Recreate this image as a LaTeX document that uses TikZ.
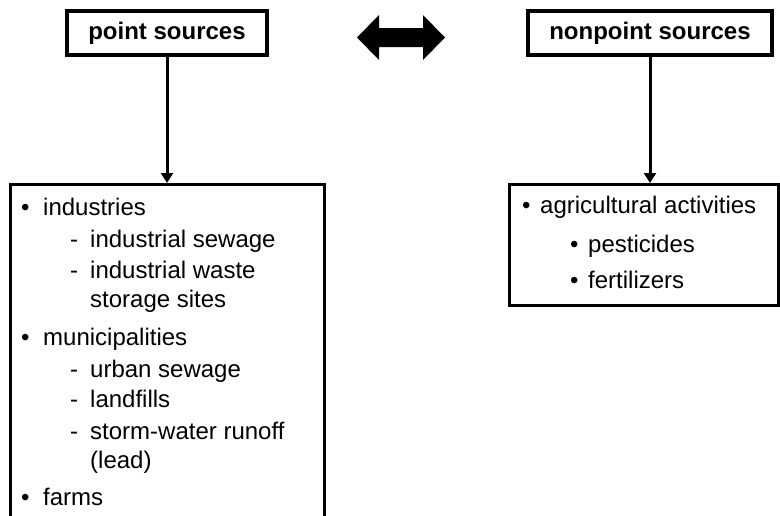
\documentclass[tikz,border=0pt]{standalone}
\usepackage{fontspec}
\setmainfont{Liberation Sans}
\usetikzlibrary{arrows.meta}
\tikzset{
  titlebox/.style={draw, line width=3.3pt, minimum height=44pt, inner sep=0pt,
    font=\fontsize{24}{28}\selectfont\bfseries},
  listbox/.style={draw, line width=3.3pt, anchor=north west, inner sep=0pt},
  item/.style={anchor=base west, inner sep=0pt, font=\fontsize{24}{28}\selectfont},
  link/.style={line width=3pt, -{Triangle[width=12pt,length=10pt]}},
}
\begin{document}
\begin{tikzpicture}[x=1pt,y=-1pt]
\useasboundingbox (0,0) rectangle (780,515);
\clip (0,0) rectangle (780,515);

% headings
\node[titlebox, minimum width=200pt] (ps) at (167,33) {point sources};
\node[titlebox, minimum width=244pt] (nps) at (650,33) {nonpoint sources};

% two-way arrow between the headings
\fill (357,37.5) -- (379,15) -- (379,28) -- (423,28) -- (423,15) -- (445,37.5)
  -- (423,60) -- (423,47) -- (379,47) -- (379,60) -- cycle;

% list boxes
\node[listbox, minimum width=314pt, minimum height=360pt] (lbox) at (9,183) {};
\node[listbox, minimum width=269pt, minimum height=121pt] (rbox) at (508,183) {};

% connectors
\draw[link] (ps.south) -- (ps.south |- lbox.north);
\draw[link] (nps.south) -- (nps.south |- rbox.north);

% point source items
\node[item] (b1) at (21,215) {•};
\node[item] (t1) at (43,215) {industries};
\node[item] (d1) at (70,247) {-};
\node[item] (t2) at (90,247) {industrial sewage};
\node[item] (d2) at (70,278) {-};
\node[item] (t3) at (90,278) {industrial waste};
\node[item] (t4) at (90,307) {storage sites};
\node[item] (b2) at (21,345) {•};
\node[item] (t5) at (43,345) {municipalities};
\node[item] (d3) at (70,377) {-};
\node[item] (t6) at (90,377) {urban sewage};
\node[item] (d4) at (70,407) {-};
\node[item] (t7) at (90,407) {landfills};
\node[item] (d5) at (70,439) {-};
\node[item] (t8) at (90,439) {storm-water runoff};
\node[item] (t9) at (90,468) {(lead)};
\node[item] (b3) at (21,505) {•};
\node[item] (t10) at (43,505) {farms};

% nonpoint source items
\node[item] (rb1) at (522,213) {•};
\node[item] (r1) at (540,213) {agricultural activities};
\node[item] (rb2) at (570,252) {•};
\node[item] (r2) at (588,252) {pesticides};
\node[item] (rb3) at (570,288) {•};
\node[item] (r3) at (588,288) {fertilizers};
\end{tikzpicture}
\end{document}
